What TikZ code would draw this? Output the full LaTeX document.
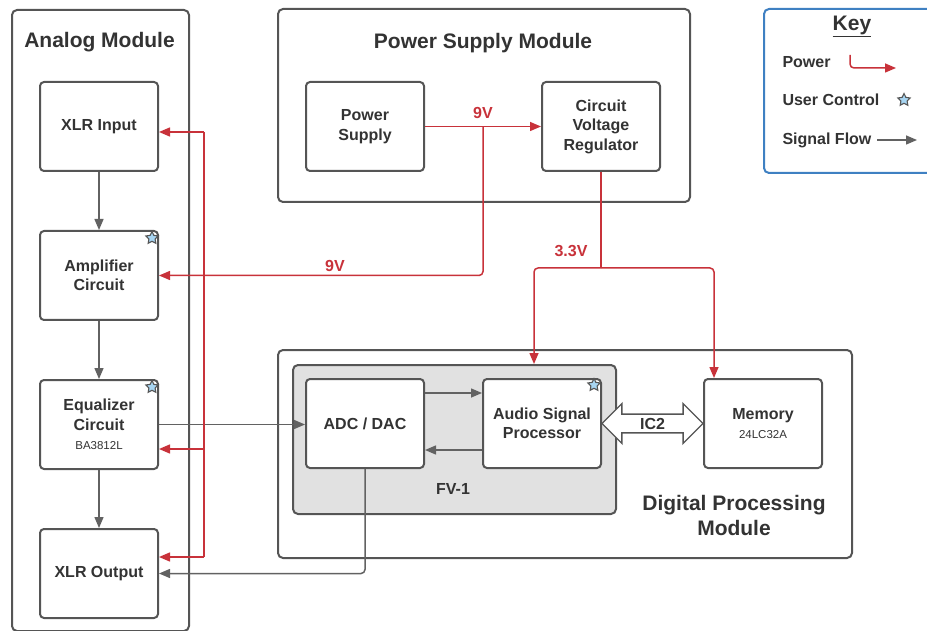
\documentclass[tikz,border=0pt]{standalone}
\usepackage{fontspec}
\setmainfont{Liberation Sans}
\usetikzlibrary{positioning, shapes.geometric, shapes.arrows, arrows.meta, calc}

\definecolor{boxgray}{HTML}{555555}
\definecolor{linegray}{HTML}{626262}
\definecolor{pwrred}{HTML}{C8323A}
\definecolor{fvgray}{HTML}{E1E1E1}
\definecolor{keyblue}{HTML}{3F80C2}
\definecolor{starblue}{HTML}{A7D5F2}
\definecolor{txtgray}{HTML}{333333}

\begin{document}
\begin{tikzpicture}[
    x=1pt, y=-1pt,
    >={Triangle[length=11pt, width=9pt]},
    arrow/.style={
        ->,
        line width=1.5pt,
        draw=linegray,
        rounded corners=4pt
    },
    power/.style={
        ->,
        line width=1.5pt,
        draw=pwrred,
        rounded corners=4pt
    },
    module/.style={
        rectangle,
        draw=boxgray,
        line width=2pt,
        rounded corners=5pt,
        anchor=north west,
        inner sep=0pt
    },
    block/.style={
        rectangle,
        draw=boxgray,
        fill=white,
        line width=2pt,
        rounded corners=4pt,
        minimum width=118pt,
        minimum height=89pt,
        inner sep=2pt,
        align=center,
        text=txtgray,
        font=\bfseries\fontsize{16}{19.5}\selectfont
    },
    title/.style={
        text=txtgray,
        align=center,
        font=\bfseries\fontsize{21}{25}\selectfont
    },
    volt/.style={
        text=pwrred,
        font=\bfseries\fontsize{16}{18}\selectfont
    },
    keytext/.style={
        anchor=west,
        text=txtgray,
        font=\bfseries\fontsize{16}{18}\selectfont
    },
    usercontrol/.style={
        star,
        star points=5,
        star point ratio=2.0,
        minimum size=13pt,
        inner sep=0pt,
        fill=starblue,
        draw=boxgray,
        line width=1.1pt
    }
]

    \clip (0,0) rectangle (927,631);

    % Modules
    \node[module, minimum width=177pt, minimum height=621pt] (analog) at (11,9) {};
    \node[title] (analogtitle) at (99.5,42) {Analog Module};

    \node[module, minimum width=412pt, minimum height=193pt] (supply) at (277,8) {};
    \node[title] (supplytitle) at (483,43) {Power Supply Module};

    \node[module, minimum width=574pt, minimum height=208pt] (digital) at (277,349) {};
    \node[title] (digitaltitle) at (734,515) {Digital Processing\\Module};

    \node[module, minimum width=323pt, minimum height=149pt, fill=fvgray] (fv1) at (292,364) {};
    \node[title, font=\bfseries\fontsize{16}{18}\selectfont] (fv1title) at (453,489) {FV-1};

    % Analog chain
    \node[block] (xlrin) at (99,126.5) {XLR Input};
    \node[block, below=58pt of xlrin] (amp) {Amplifier\\Circuit};
    \node[block, below=58pt of amp] (eq) {Equalizer\\Circuit\\{\mdseries\fontsize{11.5}{14}\selectfont BA3812L}};
    \node[block, below=58pt of eq] (xlrout) {XLR Output};

    \draw[arrow] (xlrin) -- (amp);
    \draw[arrow] (amp) -- (eq);
    \draw[arrow] (eq) -- (xlrout);

    % Power supply
    \node[block] (psu) at (365,126.5) {Power\\Supply};
    \node[block, right=116pt of psu] (cvr) {Circuit\\Voltage\\Regulator};

    % Digital processing
    \node[block] (adc) at (365,423.5) {ADC / DAC};
    \node[block, right=57pt of adc] (asp) {Audio Signal\\Processor};
    \node[block] (mem) at (763,423.5) {Memory\\{\mdseries\fontsize{11.5}{14}\selectfont 24LC32A}};

    \node[double arrow, draw=boxgray, fill=white, line width=1.4pt,
          minimum height=101pt, double arrow head extend=10.5pt, inner ysep=3pt,
          text=txtgray, font=\bfseries\fontsize{16}{18}\selectfont]
          (ic2) at ($(asp.east)!0.5!(mem.west)$) {IC2};

    \draw[arrow] ([yshift=30.5pt]adc.east) -- ([yshift=30.5pt]asp.west);
    \draw[arrow] ([yshift=-26.5pt]asp.west) -- ([yshift=-26.5pt]adc.east);
    \draw[arrow] (eq.east) -- (eq.east -| adc.west);
    \draw[arrow] (adc.south) |- (xlrout.east);

    % User controls
    \node[usercontrol] (ampstar) at ([shift={(-7,8)}]amp.north east) {};
    \node[usercontrol] (eqstar) at ([shift={(-7,8)}]eq.north east) {};
    \node[usercontrol] (aspstar) at ([shift={(-8,7)}]asp.north east) {};

    % 9V
    \coordinate (split9) at ($(psu.east)!0.5!(cvr.west)$);
    \draw[power] (psu.east) -- (cvr.west);
    \node[volt] (volt9a) at (483,113) {9V};
    \draw[power] (split9) |- (amp.east);
    \node[volt] (volt9b) at (335,266) {9V};

    % Analog power bus
    \coordinate (bustop) at (204,132);
    \coordinate (buseq) at (204,449);
    \coordinate (busbot) at (204,557);
    \draw[power, -] (bustop) -- (busbot);
    \draw[power] (bustop) -- (xlrin.east |- bustop);
    \draw[power] (buseq) -- (eq.east |- buseq);
    \draw[power] (busbot) -- (xlrout.east |- busbot);

    % 3.3V
    \coordinate (split33) at ($(cvr.south)+(0,96)$);
    \draw[power, -] (cvr.south) -- (split33);
    \draw[power] (split33) -| ([xshift=-8pt]asp.north |- fv1.north);
    \draw[power] (split33) -| ([xshift=11pt]mem.north west);
    \node[volt] (volt33) at (571,251) {3.3V};

    % Key
    \node[module, draw=keyblue, minimum width=180pt, minimum height=164pt] (key) at (763,8) {};
    \node[title] (keytitle) at (852,26) {\underline{Key}};
    \node[keytext] (keypower) at (779,62) {Power};
    \node[keytext] (keyuser) at (779,100) {User Control};
    \node[keytext] (keysignal) at (779,140) {Signal Flow};
    \coordinate (keypa) at (850,55);
    \coordinate (keypb) at (896,68);
    \draw[power] (keypa) |- (keypb);
    \node[usercontrol] (keystar) at (904,100) {};
    \coordinate (keysa) at (877,140);
    \coordinate (keysb) at (917,140);
    \draw[arrow] (keysa) -- (keysb);

\end{tikzpicture}
\end{document}
